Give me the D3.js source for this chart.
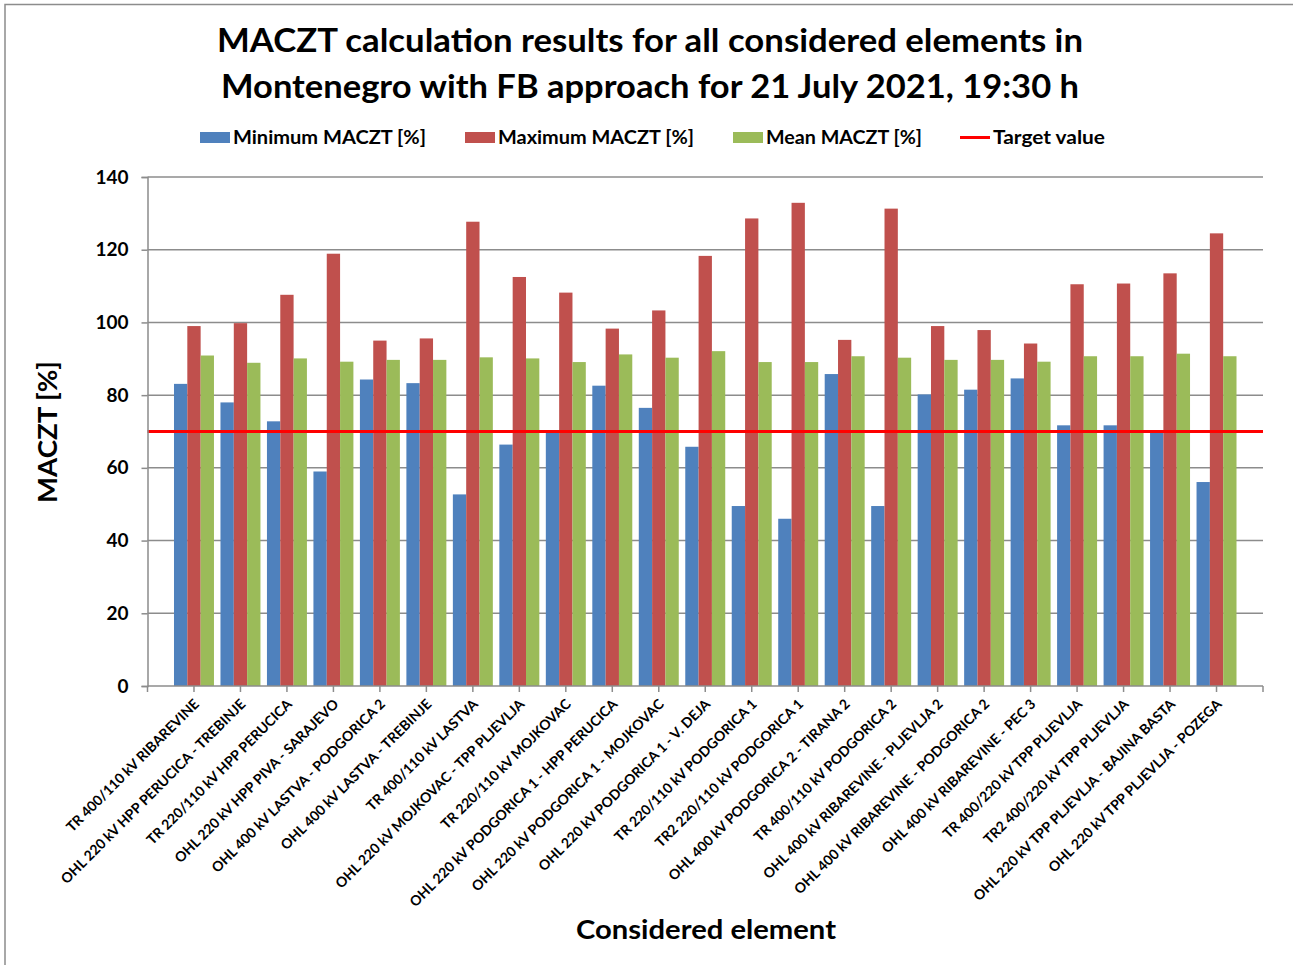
<!DOCTYPE html>
<html>
<head>
<meta charset="utf-8">
<script src="https://cdn.jsdelivr.net/npm/d3@7"></script>
<style>
  html, body { margin: 0; padding: 0; background: #fff; }
  svg { display: block; }
  text { font-family: Lato, "Open Sans", "DejaVu Sans", sans-serif; font-weight: bold; fill: #000; }
</style>
</head>
<body>
<svg id="chart" width="1293" height="965"></svg>
<script>
// Considered network elements (x categories)
const elements = [
  "TR 400/110 kV RIBAREVINE",
  "OHL 220 kV HPP PERUCICA - TREBINJE",
  "TR 220/110 kV HPP PERUCICA",
  "OHL 220 kV HPP PIVA - SARAJEVO",
  "OHL 400 kV LASTVA - PODGORICA 2",
  "OHL 400 kV LASTVA - TREBINJE",
  "TR 400/110 kV LASTVA",
  "OHL 220 kV MOJKOVAC - TPP PLJEVLJA",
  "TR 220/110 kV MOJKOVAC",
  "OHL 220 kV PODGORICA 1 - HPP PERUCICA",
  "OHL 220 kV PODGORICA 1 - MOJKOVAC",
  "OHL 220 kV PODGORICA 1 - V. DEJA",
  "TR 220/110 kV PODGORICA 1",
  "TR2 220/110 kV PODGORICA 1",
  "OHL 400 kV PODGORICA 2 - TIRANA 2",
  "TR 400/110 kV PODGORICA 2",
  "OHL 400 kV RIBAREVINE - PLJEVLJA 2",
  "OHL 400 kV RIBAREVINE - PODGORICA 2",
  "OHL 400 kV RIBAREVINE - PEC 3",
  "TR 400/220 kV TPP PLJEVLJA",
  "TR2 400/220 kV TPP PLJEVLJA",
  "OHL 220 kV TPP PLJEVLJA - BAJINA BASTA",
  "OHL 220 kV TPP PLJEVLJA - POZEGA"
];

// MACZT results [%]
const minMACZT  = [83.1, 78.0, 72.8, 59.0, 84.3, 83.3, 52.7, 66.4, 69.8, 82.6, 76.5, 65.8,
                   49.5, 46.0, 85.8, 49.5, 80.2, 81.5, 84.6, 71.7, 71.7, 69.8, 56.1];
const maxMACZT  = [99.0, 99.8, 107.6, 118.9, 95.0, 95.6, 127.7, 112.5, 108.2, 98.3, 103.3, 118.3,
                   128.6, 132.9, 95.2, 131.3, 99.0, 97.9, 94.2, 110.5, 110.7, 113.5, 124.5];
const meanMACZT = [90.9, 88.9, 90.1, 89.2, 89.7, 89.7, 90.4, 90.1, 89.1, 91.2, 90.3, 92.1,
                   89.1, 89.1, 90.7, 90.3, 89.7, 89.7, 89.2, 90.7, 90.7, 91.4, 90.7];
const targetValue = 70;

const yTicks = [0, 20, 40, 60, 80, 100, 120, 140];

const seriesNames  = ["Minimum MACZT [%]", "Maximum MACZT [%]", "Mean MACZT [%]"];
const seriesColors = ["#4F81BD", "#C0504D", "#9BBB59"];
const seriesValues = [minMACZT, maxMACZT, meanMACZT];

const svg = d3.select("#chart");

// Outer chart frame
svg.append("rect")
  .attr("x", 5).attr("y", 4.5).attr("width", 1300).attr("height", 980)
  .attr("fill", "#fff").attr("stroke", "#8c8c8c").attr("stroke-width", 1.5);

const plot = { left: 147.5, right: 1263, top: 177, bottom: 686 };
const step = (plot.right - plot.left) / (elements.length + 1);

const x = d3.scaleBand()
  .domain(elements)
  .range([plot.left + step / 2, plot.right - step / 2])
  .paddingInner(0.14)
  .paddingOuter(0.07);

const xSeries = d3.scaleBand()
  .domain(d3.range(seriesNames.length))
  .range([0, x.bandwidth()]);

const y = d3.scaleLinear().domain([0, 140]).range([plot.bottom, plot.top]);

// Horizontal gridlines
svg.append("g")
  .selectAll("line")
  .data(yTicks.filter(d => d > 0))
  .join("line")
  .attr("x1", plot.left).attr("x2", plot.right)
  .attr("y1", d => y(d)).attr("y2", d => y(d))
  .attr("stroke", "#8c8c8c").attr("stroke-width", 1.5);

// Bars
const groups = svg.append("g")
  .selectAll("g")
  .data(elements)
  .join("g")
  .attr("transform", d => `translate(${x(d)},0)`);

groups.selectAll("rect")
  .data((d, i) => seriesValues.map((vals, s) => ({ s, v: vals[i] })))
  .join("rect")
  .attr("x", d => xSeries(d.s))
  .attr("width", xSeries.bandwidth())
  .attr("y", d => y(d.v))
  .attr("height", d => y(0) - y(d.v))
  .attr("fill", d => seriesColors[d.s]);

// Target value line
svg.append("line")
  .attr("x1", plot.left).attr("x2", plot.right)
  .attr("y1", y(targetValue)).attr("y2", y(targetValue))
  .attr("stroke", "#FF0000").attr("stroke-width", 3);

// Y axis
const yAxis = svg.append("g")
  .attr("transform", `translate(${plot.left},0)`)
  .call(d3.axisLeft(y).tickValues(yTicks).tickSize(6).tickPadding(13));
yAxis.select(".domain").attr("stroke", "#8c8c8c").attr("stroke-width", 1.5);
yAxis.selectAll(".tick line").attr("stroke", "#8c8c8c").attr("stroke-width", 1.5);
yAxis.selectAll(".tick text")
  .attr("font-size", 19).attr("font-family", "Lato, sans-serif").attr("font-weight", "bold").attr("fill", "#000");

// X axis baseline and tick marks
svg.append("line")
  .attr("x1", plot.left).attr("x2", plot.right)
  .attr("y1", plot.bottom).attr("y2", plot.bottom)
  .attr("stroke", "#8c8c8c").attr("stroke-width", 1.5);

const tickXs = [plot.left, ...elements.map(d => x(d) + x.bandwidth() / 2), plot.right];
svg.append("g")
  .selectAll("line")
  .data(tickXs)
  .join("line")
  .attr("x1", d => d).attr("x2", d => d)
  .attr("y1", plot.bottom).attr("y2", plot.bottom + 6)
  .attr("stroke", "#8c8c8c").attr("stroke-width", 1.5);

// Category labels, rotated
svg.append("g")
  .selectAll("text")
  .data(elements)
  .join("text")
  .attr("transform", d => `translate(${x(d) + x.bandwidth() / 2 + 6},${plot.bottom + 19}) rotate(-45)`)
  .attr("text-anchor", "end")
  .attr("font-size", 14)
  .text(d => d);

// Title
const titleLines = [
  "MACZT calculation results for all considered elements in",
  "Montenegro with FB approach for 21 July 2021, 19:30 h"
];
svg.append("g")
  .selectAll("text")
  .data(titleLines)
  .join("text")
  .attr("x", 650)
  .attr("y", (d, i) => 52 + i * 46)
  .attr("text-anchor", "middle")
  .attr("font-size", 32)
  .attr("textLength", (d, i) => [866, 858][i])
  .attr("lengthAdjust", "spacingAndGlyphs")
  .text(d => d);

// Legend
const legendItems = [
  { name: seriesNames[0], color: seriesColors[0], type: "box", x: 200, w: 193 },
  { name: seriesNames[1], color: seriesColors[1], type: "box", x: 465, w: 196 },
  { name: seriesNames[2], color: seriesColors[2], type: "box", x: 733, w: 156 },
  { name: "Target value", color: "#FF0000", type: "line", x: 960, w: 112 }
];
const legend = svg.append("g");
legendItems.forEach(item => {
  if (item.type === "box") {
    legend.append("rect")
      .attr("x", item.x).attr("y", 132).attr("width", 30).attr("height", 11)
      .attr("fill", item.color);
  } else {
    legend.append("line")
      .attr("x1", item.x).attr("x2", item.x + 30)
      .attr("y1", 137.5).attr("y2", 137.5)
      .attr("stroke", item.color).attr("stroke-width", 3);
  }
  legend.append("text")
    .attr("x", item.x + 33).attr("y", 144)
    .attr("font-size", 18.5)
    .attr("textLength", item.w)
    .attr("lengthAdjust", "spacingAndGlyphs")
    .text(item.name);
});

// Axis titles
svg.append("text")
  .attr("transform", "translate(57,432) rotate(-90)")
  .attr("text-anchor", "middle")
  .attr("font-size", 27)
  .attr("textLength", 142)
  .attr("lengthAdjust", "spacingAndGlyphs")
  .text("MACZT [%]");

svg.append("text")
  .attr("x", 706).attr("y", 939)
  .attr("text-anchor", "middle")
  .attr("font-size", 27)
  .attr("textLength", 260)
  .attr("lengthAdjust", "spacingAndGlyphs")
  .text("Considered element");
</script>
</body>
</html>
